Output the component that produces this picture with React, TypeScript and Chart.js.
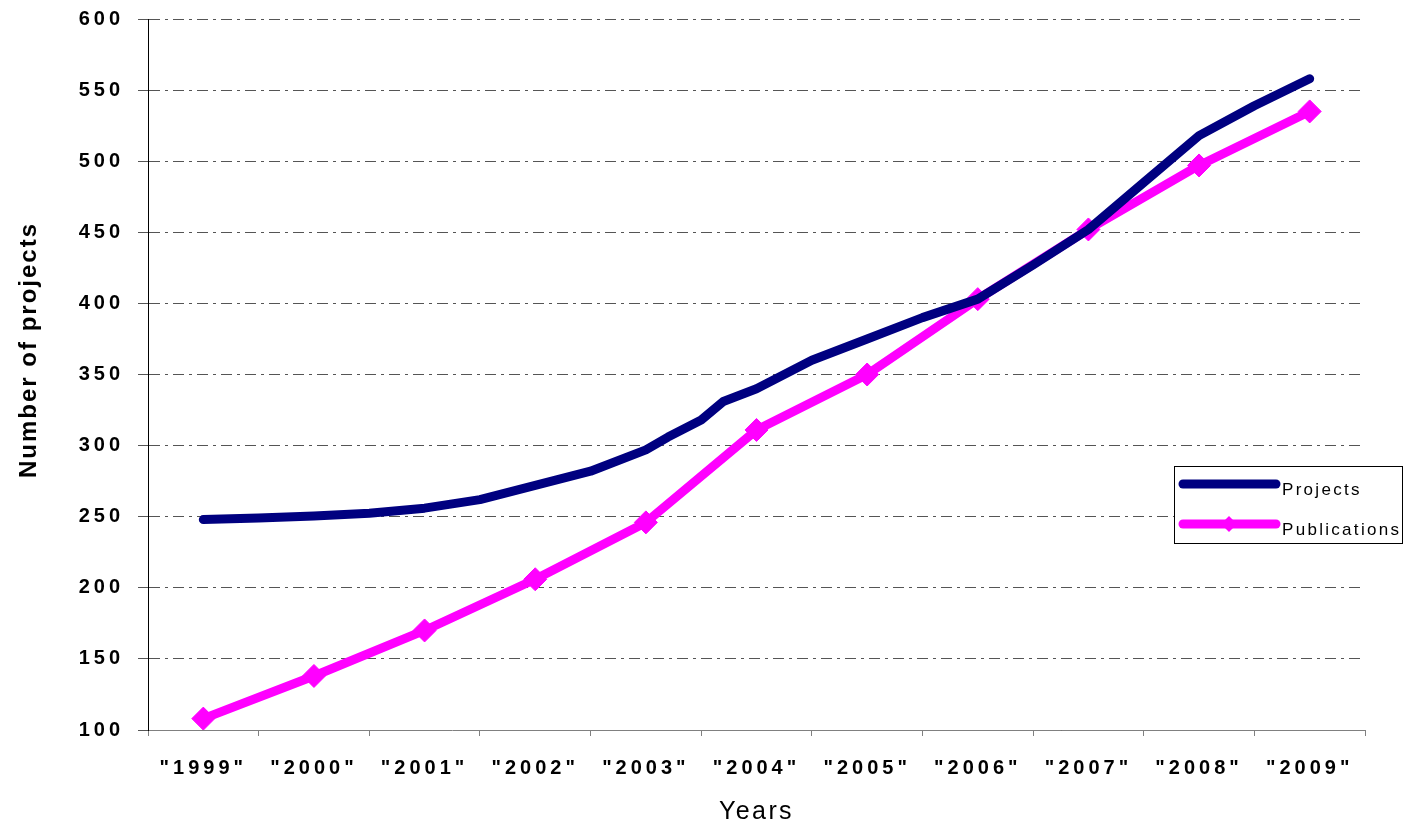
import { useEffect, useRef } from 'react';
import { Chart, registerables } from 'chart.js';

Chart.register(...registerables);

// ---- data ----
const categoryYears = [1999, 2000, 2001, 2002, 2003, 2004, 2005, 2006, 2007, 2008, 2009];
const categoryLabels = ['"1999"', '"2000"', '"2001"', '"2002"', '"2003"', '"2004"', '"2005"', '"2006"', '"2007"', '"2008"', '"2009"'];
const publications = [108, 138, 170, 206, 246, 311, 350, 403, 452, 497, 535];
const projectYears = [1999, 1999.5, 2000, 2000.5, 2001, 2001.5, 2002, 2002.5, 2003, 2003.2, 2003.5, 2003.7, 2004, 2004.5, 2005, 2005.5, 2006, 2006.5, 2007, 2007.5, 2008, 2008.5, 2009];
const projects = [248, 249, 250.5, 252.5, 256, 262, 272, 282, 297, 306, 318, 331, 340, 360, 375, 390, 403, 427, 452, 485, 518, 539, 558];
const yMin = 100;
const yMax = 600;
const yStep = 50;
const seriesNames = ['Projects', 'Publications'];
const xTitle = 'Years';
const yTitle = 'Number of projects';

const NAVY = '#000080';
const PINK = '#FF00FF';
const FONT = 'Arial, "Liberation Sans", sans-serif';

export default function App() {
  const ref = useRef<HTMLCanvasElement>(null);

  useEffect(() => {
    if (!ref.current) return;
    const dash = [11, 5, 3, 5];
    const chart = new Chart(ref.current, {
      type: 'line',
      data: {
        datasets: [
          {
            label: seriesNames[0],
            data: projectYears.map((x, i) => ({ x, y: projects[i] })),
            borderColor: NAVY,
            backgroundColor: NAVY,
            borderWidth: 9,
            borderCapStyle: 'round',
            borderJoinStyle: 'round',
            pointRadius: 0,
            tension: 0,
          },
          {
            label: seriesNames[1],
            data: categoryYears.map((x, i) => ({ x, y: publications[i] })),
            borderColor: PINK,
            backgroundColor: PINK,
            borderWidth: 9,
            borderCapStyle: 'round',
            borderJoinStyle: 'round',
            pointStyle: 'rectRot',
            pointRadius: 11.5,
            pointBorderWidth: 1,
            pointBorderColor: PINK,
            pointBackgroundColor: PINK,
            tension: 0,
          },
        ],
      },
      options: {
        responsive: false,
        animation: false,
        devicePixelRatio: 1,
        layout: { padding: { top: 19, right: 39, bottom: 0, left: 0 } },
        plugins: {
          legend: { display: false },
          tooltip: { enabled: false },
        },
        scales: {
          x: {
            type: 'linear',
            min: categoryYears[0] - 0.5,
            max: categoryYears[categoryYears.length - 1] + 0.5,
            afterFit: (s: any) => { s.height = 97; s.paddingLeft = 0; s.paddingRight = 0; },
            ticks: {
              stepSize: 0.5,
              autoSkip: false,
              maxRotation: 0,
              minRotation: 0,
              padding: 20,
              color: '#000',
              font: { family: FONT, size: 20, weight: 'bold' },
              callback: (v: any) => {
                const idx = categoryYears.indexOf(Number(v));
                return idx >= 0 ? categoryLabels[idx] : '';
              },
            },
            grid: {
              drawOnChartArea: false,
              drawTicks: true,
              tickLength: 6,
              tickColor: (ctx: any) => (Number.isInteger(ctx.tick?.value) ? 'rgba(0,0,0,0)' : '#808080'),
            },
            border: { display: true, color: '#808080', width: 1 },
          },
          y: {
            type: 'linear',
            min: yMin,
            max: yMax,
            afterFit: (s: any) => { s.width = 148; s.paddingTop = 0; s.paddingBottom = 0; },
            ticks: {
              stepSize: yStep,
              padding: 14,
              color: '#000',
              font: { family: FONT, size: 20, weight: 'bold' },
            },
            grid: {
              color: '#555',
              lineWidth: 1,
              tickLength: 10,
              tickColor: '#555',
              tickBorderDash: dash,
            } as any,
            border: { display: true, color: '#000', width: 1, dash: dash },
          },
        },
      },
      plugins: [
        {
          id: 'spacing-and-extras',
          beforeLayout(c: any) {
            c.ctx.letterSpacing = '4px';
          },
          beforeDraw(c: any) {
            c.ctx.letterSpacing = '4px';
          },
          beforeDatasetsDraw(c: any) {
            c.ctx.letterSpacing = '0px';
          },
          afterDraw(c: any) {
            const ctx = c.ctx as CanvasRenderingContext2D & { letterSpacing: string };
            ctx.save();
            // axis titles
            ctx.fillStyle = '#000';
            ctx.letterSpacing = '2.4px';
            ctx.font = `25px ${FONT}`;
            ctx.textAlign = 'center';
            ctx.textBaseline = 'middle';
            const area = c.chartArea;
            ctx.fillText(xTitle, (area.left + area.right) / 2, 812);
            ctx.save();
            ctx.translate(29, 350);
            ctx.rotate(-Math.PI / 2);
            ctx.letterSpacing = '2px';
            ctx.font = `bold 24px ${FONT}`;
            ctx.fillText(yTitle, 0, 0);
            ctx.restore();

            // legend
            const bx = 1174, by = 466, bw = 229, bh = 77;
            ctx.fillStyle = '#fff';
            ctx.fillRect(bx, by, bw, bh);
            ctx.strokeStyle = '#000';
            ctx.lineWidth = 1;
            ctx.strokeRect(bx + 0.5, by + 0.5, bw - 1, bh);
            ctx.lineCap = 'round';
            ctx.lineWidth = 9;
            ctx.strokeStyle = NAVY;
            ctx.beginPath();
            ctx.moveTo(1183, 484);
            ctx.lineTo(1276, 484);
            ctx.stroke();
            ctx.strokeStyle = PINK;
            ctx.beginPath();
            ctx.moveTo(1183, 524);
            ctx.lineTo(1276, 524);
            ctx.stroke();
            ctx.fillStyle = PINK;
            ctx.beginPath();
            ctx.moveTo(1229, 516);
            ctx.lineTo(1237, 524);
            ctx.lineTo(1229, 532);
            ctx.lineTo(1221, 524);
            ctx.closePath();
            ctx.fill();
            ctx.fillStyle = '#000';
            ctx.font = `17px ${FONT}`;
            ctx.letterSpacing = '2.3px';
            ctx.textAlign = 'left';
            ctx.textBaseline = 'alphabetic';
            ctx.fillText(seriesNames[0], 1282, 495);
            ctx.fillText(seriesNames[1], 1282, 535);
            ctx.restore();
          },
        },
      ],
    } as any);
    return () => chart.destroy();
  }, []);

  return (
    <div style={{ position: 'fixed', left: 0, top: 0, width: 1404, height: 827, background: '#fff' }}>
      <canvas ref={ref} width={1404} height={827} style={{ display: 'block' }} />
    </div>
  );
}
